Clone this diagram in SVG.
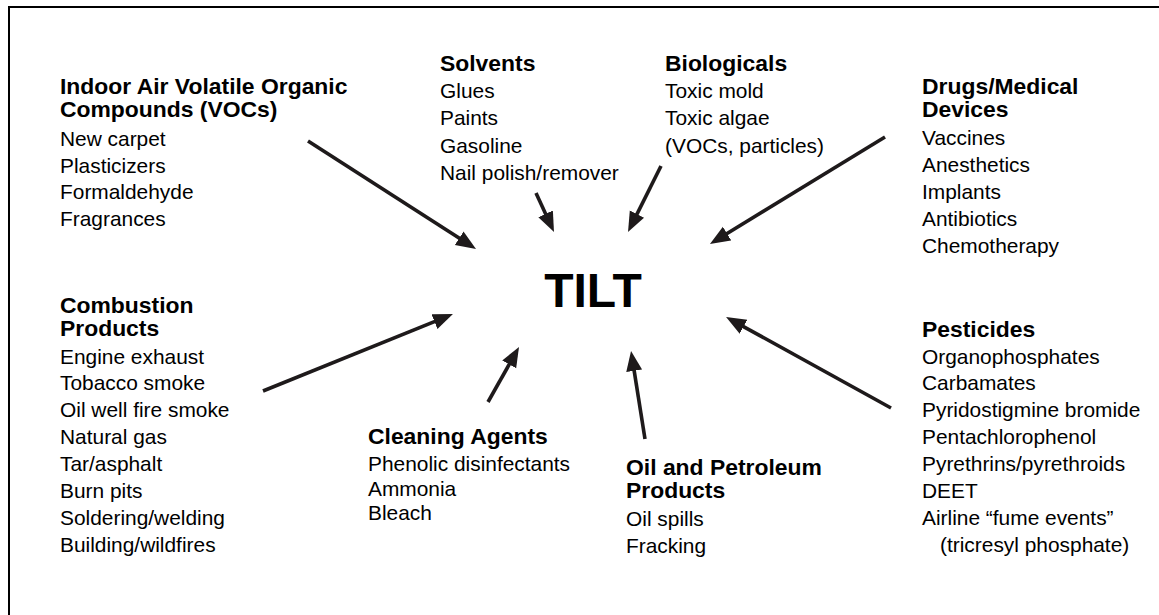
<svg xmlns="http://www.w3.org/2000/svg" width="1159" height="615" viewBox="0 0 1159 615">
<style>
text{font-family:"Liberation Sans",Arial,sans-serif;fill:#000}
.h{font-size:22.9px;font-weight:bold}
.b{font-size:20.9px}
.t{font-size:48px;font-weight:bold}
.c line{stroke:#1e1a1b;stroke-width:3.6;fill:none;marker-end:url(#ah)}
</style>
<defs>
<marker id="ah" markerUnits="userSpaceOnUse" markerWidth="22" markerHeight="18" refX="10" refY="8" orient="auto">
<path d="M0,0 L20,8 L0,16 Z" fill="#1e1a1b"/>
</marker>
</defs>
<rect x="9" y="7" width="1170" height="640" fill="#fff" stroke="#000" stroke-width="2"/>
<g id="tilt"><text class="t" x="593" y="307" text-anchor="middle">TILT</text></g>
<g id="vocs">
<text class="h" x="60" y="94">Indoor Air Volatile Organic</text>
<text class="h" x="60" y="117">Compounds (VOCs)</text>
<text class="b" x="60" y="146">New carpet</text>
<text class="b" x="60" y="172.5">Plasticizers</text>
<text class="b" x="60" y="199">Formaldehyde</text>
<text class="b" x="60" y="226">Fragrances</text>
</g>
<g id="solvents">
<text class="h" x="440" y="71">Solvents</text>
<text class="b" x="440" y="98">Glues</text>
<text class="b" x="440" y="125">Paints</text>
<text class="b" x="440" y="153">Gasoline</text>
<text class="b" x="440" y="180">Nail polish/remover</text>
</g>
<g id="biologicals">
<text class="h" x="665" y="71">Biologicals</text>
<text class="b" x="665" y="98">Toxic mold</text>
<text class="b" x="665" y="125">Toxic algae</text>
<text class="b" x="665" y="153">(VOCs, particles)</text>
</g>
<g id="drugs">
<text class="h" x="922" y="93.5">Drugs/Medical</text>
<text class="h" x="922" y="117">Devices</text>
<text class="b" x="922" y="145">Vaccines</text>
<text class="b" x="922" y="172">Anesthetics</text>
<text class="b" x="922" y="198.5">Implants</text>
<text class="b" x="922" y="226">Antibiotics</text>
<text class="b" x="922" y="252.5">Chemotherapy</text>
</g>
<g id="combustion">
<text class="h" x="60" y="313">Combustion</text>
<text class="h" x="60" y="336">Products</text>
<text class="b" x="60" y="363.5">Engine exhaust</text>
<text class="b" x="60" y="390">Tobacco smoke</text>
<text class="b" x="60" y="417">Oil well fire smoke</text>
<text class="b" x="60" y="444">Natural gas</text>
<text class="b" x="60" y="471">Tar/asphalt</text>
<text class="b" x="60" y="498">Burn pits</text>
<text class="b" x="60" y="525">Soldering/welding</text>
<text class="b" x="60" y="552">Building/wildfires</text>
</g>
<g id="cleaning">
<text class="h" x="368" y="443.5">Cleaning Agents</text>
<text class="b" x="368" y="471">Phenolic disinfectants</text>
<text class="b" x="368" y="495.5">Ammonia</text>
<text class="b" x="368" y="520">Bleach</text>
</g>
<g id="oil">
<text class="h" x="626" y="475">Oil and Petroleum</text>
<text class="h" x="626" y="498">Products</text>
<text class="b" x="626" y="526">Oil spills</text>
<text class="b" x="626" y="553">Fracking</text>
</g>
<g id="pesticides">
<text class="h" x="922" y="337">Pesticides</text>
<text class="b" x="922" y="363.5">Organophosphates</text>
<text class="b" x="922" y="390">Carbamates</text>
<text class="b" x="922" y="417">Pyridostigmine bromide</text>
<text class="b" x="922" y="444">Pentachlorophenol</text>
<text class="b" x="922" y="471">Pyrethrins/pyrethroids</text>
<text class="b" x="922" y="498">DEET</text>
<text class="b" x="922" y="525">Airline “fume events”</text>
<text class="b" x="940" y="552">(tricresyl phosphate)</text>
</g>
<g id="connectors" class="c">
<line x1="308" y1="141" x2="467.6" y2="243.6"/>
<line x1="536" y1="193" x2="549.8" y2="222.9"/>
<line x1="661" y1="166" x2="632.5" y2="223.1"/>
<line x1="885" y1="137" x2="718.5" y2="238.8"/>
<line x1="263" y1="391" x2="443.7" y2="317.8"/>
<line x1="488" y1="402" x2="514.1" y2="355.7"/>
<line x1="645" y1="439" x2="632.6" y2="360.9"/>
<line x1="891" y1="408" x2="734.8" y2="321.8"/>
</g>
</svg>
